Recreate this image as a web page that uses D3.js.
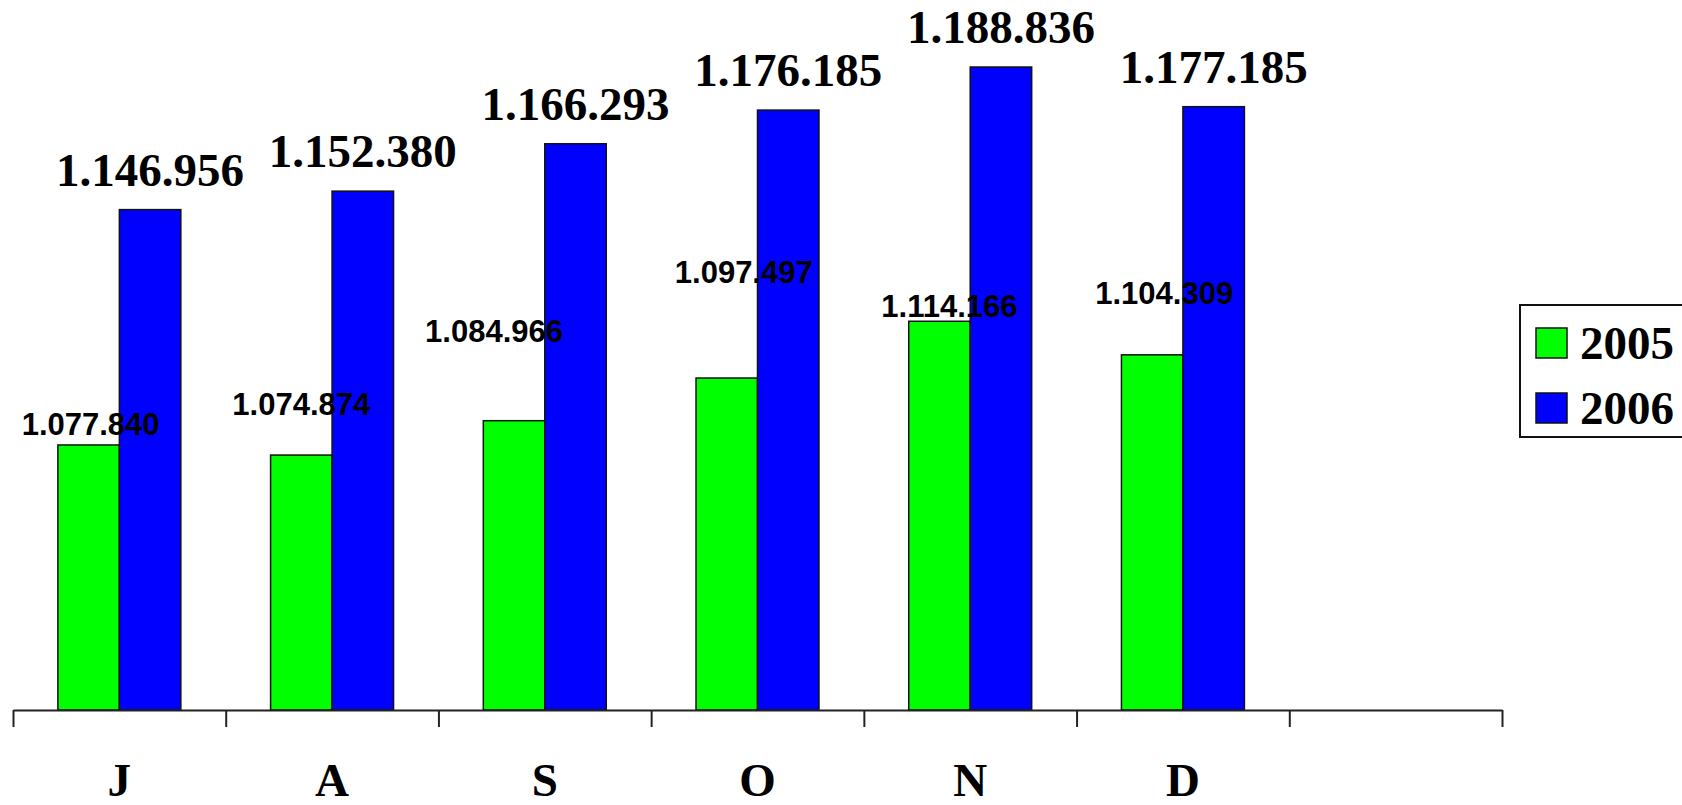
<!DOCTYPE html>
<html>
<head>
<meta charset="utf-8">
<script src="https://cdn.jsdelivr.net/npm/d3@7"></script>
<style>
    body { margin: 0; background: #fff; }
    .valueBig { font-family: "Liberation Serif", "Times New Roman", serif; font-weight: bold; font-size: 47px; }
    .valueSmall { font-family: "Liberation Sans", Arial, sans-serif; font-weight: bold; font-size: 31px; }
    .catLabel { font-family: "Liberation Serif", "Times New Roman", serif; font-weight: bold; font-size: 47px; }
    .legendText { font-family: "Liberation Serif", "Times New Roman", serif; font-weight: bold; font-size: 47px; }
</style>
</head>
<body>
<div id="chart"></div>
<script>
// months (last slot on the axis stays empty)
var months = ['J', 'A', 'S', 'O', 'N', 'D', ''];
var years = ['2005', '2006'];
var values2005 = [1077840, 1074874, 1084966, 1097497, 1114166, 1104309];
var values2006 = [1146956, 1152380, 1166293, 1176185, 1188836, 1177185];
var labels2005 = ['1.077.840', '1.074.874', '1.084.966', '1.097.497', '1.114.166', '1.104.309'];
var labels2006 = ['1.146.956', '1.152.380', '1.166.293', '1.176.185', '1.188.836', '1.177.185'];
var yDomain = [1000000, 1200000];

var colors = { '2005': '#00ff00', '2006': '#0000ff' };

// the 2005 labels were placed by hand in the original, so nudge them (px)
var smallLabelDx = [2, 0, -20, 17, 10, 12];
var smallLabelLift = [10, 40, 79, 95, 4, 51];

var width = 1682;
var height = 805;
var margin = { top: 29, left: 13, right: 1502, bottom: 710 };

var svg = d3.select("#chart").append("svg")
    .attr("width", width)
    .attr("height", height);

// outer band per month, inner band per year
var xScale = d3.scaleBand().domain(months).range([margin.left, margin.right]);
var xInner = d3.scaleBand().domain(years).range([0, xScale.bandwidth()]).paddingOuter(0.73);
var yScale = d3.scaleLinear().domain(yDomain).range([margin.bottom, margin.top]);

// build rows for drawing
var rows = [];
values2005.forEach(function (v, i) {
    rows.push({ month: months[i], year: '2005', value: v, label: labels2005[i], idx: i });
    rows.push({ month: months[i], year: '2006', value: values2006[i], label: labels2006[i], idx: i });
});

// bars
svg.selectAll("rect.bar")
    .data(rows)
    .enter().append("rect")
    .attr("class", "bar")
    .attr("x", function (d) { return xScale(d.month) + xInner(d.year); })
    .attr("y", function (d) { return yScale(d.value); })
    .attr("width", xInner.bandwidth())
    .attr("height", function (d) { return yScale(yDomain[0]) - yScale(d.value); })
    .attr("fill", function (d) { return colors[d.year]; })
    .attr("stroke", "#111")
    .attr("stroke-width", 1.5);

// category axis with ticks on band edges
var edgeScale = d3.scaleLinear().domain([0, months.length]).range([margin.left, margin.right]);
svg.append("g")
    .attr("transform", `translate(0,${margin.bottom})`)
    .call(d3.axisBottom(edgeScale)
        .tickValues(d3.range(months.length + 1))
        .tickFormat("")
        .tickSize(17)
        .tickSizeOuter(0))
    .call(function (g) {
        g.selectAll("path, line").attr("stroke", "#222").attr("stroke-width", 2);
    });

// month labels
svg.selectAll("text.catLabel")
    .data(months)
    .enter().append("text")
    .attr("class", "catLabel")
    .attr("x", function (m) { return xScale(m) + xScale.bandwidth() / 2; })
    .attr("y", 796)
    .attr("text-anchor", "middle")
    .text(function (m) { return m; });

// 2005 value labels (small sans)
svg.selectAll("text.valueSmall")
    .data(rows.filter(function (d) { return d.year == '2005'; }))
    .enter().append("text")
    .attr("class", "valueSmall")
    .attr("x", function (d) { return xScale(d.month) + xInner(d.year) + xInner.bandwidth() / 2 + smallLabelDx[d.idx]; })
    .attr("y", function (d) { return yScale(d.value) - smallLabelLift[d.idx]; })
    .attr("text-anchor", "middle")
    .text(function (d) { return d.label; });

// 2006 value labels (large serif)
svg.selectAll("text.valueBig")
    .data(rows.filter(function (d) { return d.year == '2006'; }))
    .enter().append("text")
    .attr("class", "valueBig")
    .attr("x", function (d) { return xScale(d.month) + xInner(d.year) + xInner.bandwidth() / 2; })
    .attr("y", function (d) { return yScale(d.value) - 24; })
    .attr("text-anchor", "middle")
    .text(function (d) { return d.label; });

// legend (runs off the right edge like the original)
var legend = svg.append("g").attr("transform", "translate(1520,305)");
legend.append("rect")
    .attr("width", 200)
    .attr("height", 132)
    .attr("fill", "#fff")
    .attr("stroke", "#111")
    .attr("stroke-width", 2);
var items = legend.selectAll("g.item")
    .data(years)
    .enter().append("g")
    .attr("class", "item")
    .attr("transform", function (d, i) { return `translate(16,${23 + i * 65})`; });
items.append("rect")
    .attr("width", 31)
    .attr("height", 30)
    .attr("fill", function (d) { return colors[d]; })
    .attr("stroke", "#111")
    .attr("stroke-width", 1.5);
items.append("text")
    .attr("class", "legendText")
    .attr("x", 44)
    .attr("y", 31)
    .text(function (d) { return d; });
</script>
</body>
</html>
